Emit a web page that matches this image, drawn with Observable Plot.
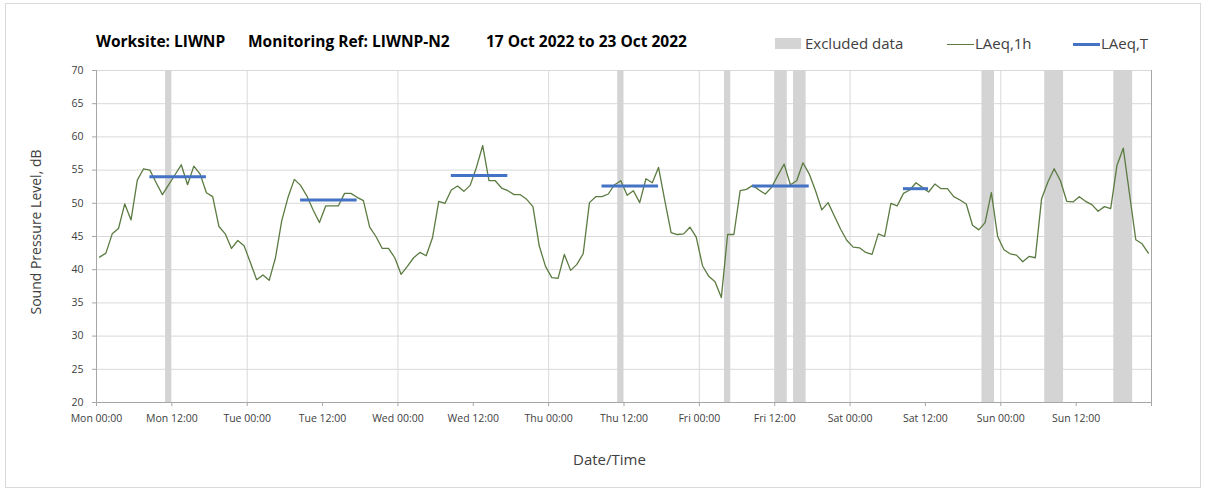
<!DOCTYPE html>
<html>
<head>
<meta charset="utf-8">
<script src="https://cdn.jsdelivr.net/npm/d3@7"></script>
<script src="https://cdn.jsdelivr.net/npm/@observablehq/plot@0.6"></script>
<style>
  html, body { margin: 0; padding: 0; background: #ffffff; }
  #wrap { position: relative; width: 1208px; height: 493px; font-family: "Open Sans", "Noto Sans", sans-serif; overflow: hidden; }
  #wrap svg { position: absolute; left: 0; top: 0; }
  .abs { position: absolute; white-space: nowrap; }
  .title { font-weight: 700; font-size: 15.5px; color: #000; top: 30px; }
  .leg { font-size: 15px; color: #404040; top: 33px; }
  .border { position: absolute; left: 5px; top: 3px; width: 1196px; height: 485px; border: 1px solid #d9d9d9; box-sizing: border-box; }
</style>
</head>
<body>
<div id="wrap"></div>
<script>
// ---- data ----
// hourly LAeq,1h values, hour index 0 = Mon 00:00-01:00 (Mon 17 Oct 2022)
const hourlyLAeq = [
  41.9, 42.5, 45.4, 46.2, 49.9, 47.5, 53.5, 55.2, 55.0, 53.1, 51.3, 52.8, 54.3, 55.8, 52.8, 55.6, 54.4, 51.6, 51.0, 46.5, 45.4, 43.2, 44.4, 43.6,
  41.1, 38.5, 39.2, 38.4, 41.8, 47.4, 50.9, 53.6, 52.7, 51.1, 49.0, 47.1, 49.6, 49.6, 49.6, 51.5, 51.5, 50.9, 50.4, 46.4, 45.0, 43.2, 43.2, 41.8,
  39.3, 40.5, 41.8, 42.6, 42.1, 44.8, 50.3, 50.0, 52.0, 52.6, 51.8, 52.7, 55.4, 58.7, 53.4, 53.4, 52.3, 51.9, 51.3, 51.3, 50.6, 49.5, 43.6, 40.5,
  38.8, 38.7, 42.3, 39.9, 40.8, 42.4, 50.1, 51.0, 51.0, 51.4, 52.8, 53.4, 51.2, 51.9, 50.1, 53.7, 53.1, 55.4, 50.4, 45.6, 45.3, 45.4, 46.4, 44.9,
  40.6, 39.0, 38.2, 35.8, 45.3, 45.3, 51.9, 52.1, 52.7, 52.0, 51.4, 52.4, 54.2, 55.9, 52.8, 53.4, 56.1, 54.4, 51.9, 49.0, 50.1, 48.1, 46.1, 44.4,
  43.4, 43.3, 42.6, 42.3, 45.4, 45.0, 50.0, 49.6, 51.5, 52.0, 53.1, 52.4, 51.7, 52.9, 52.2, 52.2, 51.0, 50.5, 49.9, 46.7, 46.0, 47.1, 51.6, 45.0,
  43.0, 42.4, 42.2, 41.2, 42.0, 41.8, 50.7, 53.2, 55.2, 53.4, 50.3, 50.2, 51.0, 50.3, 49.8, 48.8, 49.5, 49.2, 55.7, 58.3, 51.4, 44.5, 43.9, 42.5
];
// excluded hours (hour index)
const excludedHours = [11, 83, 100, 108, 109, 111, 112, 141, 142, 151, 152, 153, 162, 163, 164];
// LAeq,T periods: first hour, last hour, level
const periodStart = [8, 32, 56, 80, 104, 128];
const periodEnd   = [17, 41, 65, 89, 113, 132];
const periodLevel = [54.0, 50.5, 54.2, 52.6, 52.6, 52.2];
// axes
const xTickHours  = [0, 12, 24, 36, 48, 60, 72, 84, 96, 108, 120, 132, 144, 156, 168];
const xTickLabels = ["Mon 00:00","Mon 12:00","Tue 00:00","Tue 12:00","Wed 00:00","Wed 12:00","Thu 00:00","Thu 12:00","Fri 00:00","Fri 12:00","Sat 00:00","Sat 12:00","Sun 00:00","Sun 12:00",""];
const dayGridHours = [24, 48, 72, 96, 120, 144, 168];
const yTicks = [20, 25, 30, 35, 40, 45, 50, 55, 60, 65, 70];
const titleParts = ["Worksite: LIWNP", "Monitoring Ref: LIWNP-N2", "17 Oct 2022 to 23 Oct 2022"];
const legendLabels = ["Excluded data", "LAeq,1h", "LAeq,T"];
const yLabel = "Sound Pressure Level, dB";
const xLabel = "Date/Time";

// ---- build tables ----
const hourly = hourlyLAeq.map((v, i) => ({ t: i + 0.5, v }));
// merge consecutive excluded hours into continuous bands
const bands = [];
for (const h of excludedHours) {
  const last = bands[bands.length - 1];
  if (last && last.x2 === h) last.x2 = h + 1;
  else bands.push({ x1: h, x2: h + 1 });
}
const periods = periodStart.map((s, i) => ({ x1: s + 0.5, x2: periodEnd[i] + 0.5, y: periodLevel[i] }));

const GREEN = "#5b7b41";
const BLUE = "#4472c4";
const BAND = "#d4d4d4";
const GRID = "#d9d9d9";
const AXIS = "#a6a6a6";

const chart = Plot.plot({
  width: 1208,
  height: 493,
  marginLeft: 96,
  marginRight: 57,
  marginTop: 70,
  marginBottom: 91,
  x: { domain: [0, 168] },
  y: { domain: [20, 70] },
  style: { fontFamily: "'Open Sans', sans-serif", fontSize: "10.5px", color: "#404040", background: "transparent" },
  marks: [
    Plot.gridY(yTicks, { stroke: GRID, strokeOpacity: 1 }),
    Plot.gridX(dayGridHours, { stroke: GRID, strokeOpacity: 1 }),
    Plot.rect(bands, { x1: "x1", x2: "x2", y1: 20, y2: 70, fill: BAND }),
    Plot.ruleX([168], { stroke: AXIS, y1: 20, y2: 70 }),
    Plot.ruleX([0], { stroke: AXIS }),
    Plot.ruleY([20], { stroke: AXIS }),
    Plot.line(hourly, { x: "t", y: "v", stroke: GREEN, strokeWidth: 1.3 }),
    Plot.ruleY(periods, { y: "y", x1: "x1", x2: "x2", stroke: BLUE, strokeWidth: 3 }),
    Plot.axisY({ ticks: yTicks, tickSize: 4, tickPadding: 9, stroke: AXIS, fill: "#404040", label: null }),
    Plot.axisX({ ticks: xTickHours, tickFormat: d => xTickLabels[d / 12], tickSize: 4, tickPadding: 8, stroke: AXIS, fill: "#404040", label: null })
  ]
});

const wrap = document.getElementById("wrap");
const border = document.createElement("div");
border.className = "border";
wrap.appendChild(border);
wrap.appendChild(chart);

function addText(txt, cls, left, top, extra) {
  const d = document.createElement("div");
  d.className = "abs " + cls;
  d.textContent = txt;
  d.style.left = left + "px";
  if (top != null) d.style.top = top + "px";
  if (extra) Object.assign(d.style, extra);
  wrap.appendChild(d);
  return d;
}
function addBox(left, top, w, h, bg) {
  const d = document.createElement("div");
  d.className = "abs";
  Object.assign(d.style, { left: left + "px", top: top + "px", width: w + "px", height: h + "px", background: bg });
  wrap.appendChild(d);
}

// title
addText(titleParts[0], "title", 96);
addText(titleParts[1], "title", 248);
addText(titleParts[2], "title", 486);

// legend
addBox(775, 38, 26, 11, BAND);
addText(legendLabels[0], "leg", 805);
addBox(947, 44, 27, 1.3, GREEN);
addText(legendLabels[1], "leg", 975);
addBox(1073, 43, 27, 3, BLUE);
addText(legendLabels[2], "leg", 1101);

// axis titles
addText(xLabel, "", 573, 449, { fontSize: "15px", color: "#404040" });
const yl = addText(yLabel, "", 0, 0, { fontSize: "14px", color: "#404040" });
yl.style.left = "35px";
yl.style.top = "232px";
yl.style.transform = "translate(-50%, -50%) rotate(-90deg)";
</script>
</body>
</html>
